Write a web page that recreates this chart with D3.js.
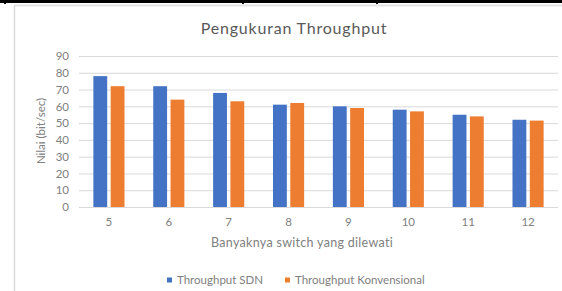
<!DOCTYPE html>
<html>
<head>
<meta charset="utf-8">
<script src="https://cdn.jsdelivr.net/npm/d3@7"></script>
<style>
  body { margin: 0; background: #fff; }
  svg { display: block; font-family: Lato, "Open Sans", sans-serif; }
</style>
</head>
<body>
<div id="chart"></div>
<script>
const categories = ["5", "6", "7", "8", "9", "10", "11", "12"];
const seriesNames = ["Throughput SDN", "Throughput Konvensional"];
const sdnValues = [78, 72, 68, 61, 60, 58, 55, 52];
const konvValues = [72, 64, 63, 62, 59, 57, 54, 51.5];
const yTicks = [0, 10, 20, 30, 40, 50, 60, 70, 80, 90];
const colors = ["#4472C4", "#ED7D31"];

const width = 562, height = 291;
const plot = { left: 79, right: 558, top: 56, bottom: 207 };

const svg = d3.select("#chart").append("svg")
  .attr("width", width).attr("height", height);

// table border remnants at the top
svg.append("rect").attr("x", 0).attr("y", 0).attr("width", width).attr("height", 3).attr("fill", "#000");
[5, 243, 377].forEach(x => {
  svg.append("rect").attr("x", x - 1).attr("y", 0).attr("width", 2).attr("height", 4).attr("fill", "#000");
});
// chart frame
svg.append("line").attr("x1", 14.5).attr("x2", width).attr("y1", 5.5).attr("y2", 5.5)
  .attr("stroke", "#e3e3e3").attr("stroke-width", 2);
svg.append("line").attr("x1", 14.5).attr("x2", 14.5).attr("y1", 5).attr("y2", height)
  .attr("stroke", "#d9d9d9").attr("stroke-width", 1.5);

const y = d3.scaleLinear().domain([0, 90]).range([plot.bottom, plot.top]);
const x0 = d3.scaleBand().domain(categories).range([plot.left, plot.right])
  .paddingInner(0.48).paddingOuter(0.24);
const x1 = d3.scaleBand().domain(seriesNames).range([0, x0.bandwidth()]).paddingInner(0.2);

// gridlines
svg.append("g").selectAll("line").data(yTicks).join("line")
  .attr("x1", plot.left).attr("x2", plot.right)
  .attr("y1", d => y(d) + 0.5).attr("y2", d => y(d) + 0.5)
  .attr("stroke", "#d9d9d9").attr("stroke-width", 1);

// y axis labels
const yAxis = svg.append("g").attr("transform", `translate(${plot.left - 10},0)`)
  .call(d3.axisLeft(y).tickValues(yTicks).tickSize(0).tickPadding(0));
yAxis.select(".domain").remove();
yAxis.selectAll("text").attr("fill", "#808080").attr("font-size", 11.5).attr("font-family", "Lato, sans-serif");

// bars
const rows = categories.map((c, i) => ({ cat: c, vals: [sdnValues[i], konvValues[i]] }));
svg.append("g").selectAll("g").data(rows).join("g")
  .attr("transform", d => `translate(${x0(d.cat)},0)`)
  .selectAll("rect").data(d => d.vals.map((v, j) => ({ name: seriesNames[j], v, j })))
  .join("rect")
  .attr("x", d => x1(d.name))
  .attr("y", d => y(d.v))
  .attr("width", x1.bandwidth())
  .attr("height", d => y(0) - y(d.v))
  .attr("fill", d => colors[d.j]);

// x axis labels
const xAxis = svg.append("g").attr("transform", `translate(0,${plot.bottom + 11})`)
  .call(d3.axisBottom(x0).tickSize(0).tickPadding(0));
xAxis.select(".domain").remove();
xAxis.selectAll("text").attr("fill", "#808080").attr("font-size", 11.5).attr("font-family", "Lato, sans-serif");

// titles
svg.append("text").attr("x", 294).attr("y", 34).attr("text-anchor", "middle")
  .attr("fill", "#595959").attr("font-size", 16).attr("letter-spacing", 0.8)
  .text("Pengukuran Throughput");
svg.append("text").attr("x", 302).attr("y", 247).attr("text-anchor", "middle")
  .attr("fill", "#808080").attr("font-size", 12.5).attr("letter-spacing", 0.3)
  .text("Banyaknya switch yang dilewati");
svg.append("text").attr("transform", "translate(45,131) rotate(-90)").attr("text-anchor", "middle")
  .attr("fill", "#808080").attr("font-size", 11.5).text("Nilai (bit/sec)");

// legend
const legendX = [167, 285];
const legend = svg.append("g").selectAll("g").data(seriesNames).join("g")
  .attr("transform", (d, i) => `translate(${legendX[i]},280)`);
legend.append("rect").attr("x", 0).attr("y", -2.5).attr("width", 5).attr("height", 5)
  .attr("fill", (d, i) => colors[i]);
legend.append("text").attr("x", 10).attr("y", 4).attr("fill", "#808080")
  .attr("font-size", 11.5).text(d => d);
</script>
</body>
</html>
